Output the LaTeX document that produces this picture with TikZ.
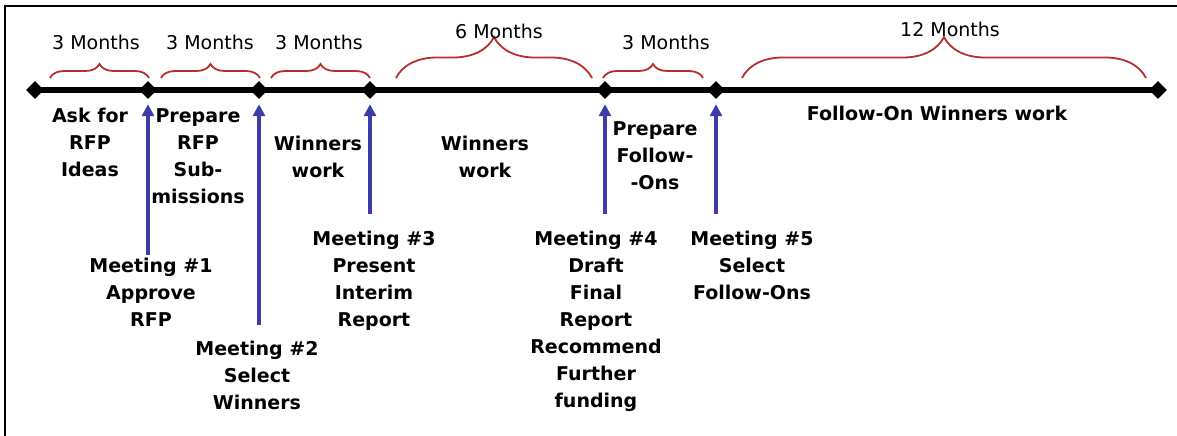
\documentclass[tikz,border=0pt]{standalone}
\usepackage{fontspec}
\setmainfont{DejaVu Sans}
\usetikzlibrary{decorations.pathreplacing,shapes.geometric,arrows.meta}
\definecolor{bracered}{RGB}{185,45,45}
\definecolor{meetblue}{RGB}{60,60,170}
\newcommand{\phasefont}{\fontsize{19}{27}\selectfont\bfseries}
\newcommand{\monthfont}{\fontsize{19}{23}\selectfont}
\begin{document}
\begin{tikzpicture}[x=1pt,y=-1pt,
  milestone/.style={diamond, fill=black, inner sep=0pt, minimum width=18pt, minimum height=18pt},
  phase/.style={align=center, font=\phasefont, inner sep=0pt, anchor=base},
  period/.style={font=\monthfont, inner sep=0pt, anchor=base},
  span/.style={draw=bracered, line width=1.8pt, decorate, decoration={brace, amplitude=#1}},
  meetarrow/.style={draw=meetblue, line width=3.2pt, -{Triangle[length=12pt,width=12pt]}, shorten >=5pt},
]
\useasboundingbox (0,0) rectangle (1177,436);

% frame
\draw[line width=2pt] (5,436) -- (5,6) -- (1177,6);

% milestones on the time line
\node[milestone] (d0) at (35,90) {};
\node[milestone] (d1) at (148,90) {};
\node[milestone] (d2) at (259,90) {};
\node[milestone] (d3) at (370,90) {};
\node[milestone] (d4) at (605,90) {};
\node[milestone] (d5) at (716,90) {};
\node[milestone] (d6) at (1158,90) {};
\draw[line width=6pt] (d0.center) -- (d6.center);

% durations
\draw[span=14pt] (50,78) -- (149,78);
\draw[span=14pt] (161,78) -- (260,78);
\draw[span=14pt] (271,78) -- (370,78);
\draw[span=41pt] (396,78) -- (592,78);
\draw[span=14pt] (603,78) -- (703,78);
\draw[span=41pt] (742,78) -- (1146,78);
\node[period] (p1) at (96,50) {3 Months};
\node[period] (p2) at (210,50) {3 Months};
\node[period] (p3) at (319,50) {3 Months};
\node[period] (p4) at (499,38) {6 Months};
\node[period] (p5) at (666,50) {3 Months};
\node[period] (p6) at (950,37) {12 Months};

% phases (anchored on the baseline of the last line)
\node[phase] (f1) at (90,176) {Ask for\\RFP\\Ideas};
\node[phase] (f2) at (198,203) {Prepare\\RFP\\Sub-\\missions};
\node[phase] (f3) at (318,177) {Winners\\work};
\node[phase] (f4) at (485,177) {Winners\\work};
\node[phase] (f5) at (655,189) {Prepare\\Follow-\\-Ons};
\node[phase] (f6) at (937,120) {Follow-On Winners work};

% meetings
\node[phase] (m1) at (151,326) {Meeting \#1\\Approve\\RFP};
\node[phase] (m2) at (257,409) {Meeting \#2\\Select\\Winners};
\node[phase] (m3) at (374,326) {Meeting \#3\\Present\\Interim\\Report};
\node[phase] (m4) at (596,407) {Meeting \#4\\Draft\\Final\\Report\\Recommend\\Further\\funding};
\node[phase] (m5) at (752,299) {Meeting \#5\\Select\\Follow-Ons};

\coordinate (a1) at (148,255);
\coordinate (a2) at (259,325);
\coordinate (a3) at (370,214);
\coordinate (a4) at (605,214);
\coordinate (a5) at (716,214);
\draw[meetarrow] (a1) -- (d1);
\draw[meetarrow] (a2) -- (d2);
\draw[meetarrow] (a3) -- (d3);
\draw[meetarrow] (a4) -- (d4);
\draw[meetarrow] (a5) -- (d5);
\end{tikzpicture}
\end{document}
